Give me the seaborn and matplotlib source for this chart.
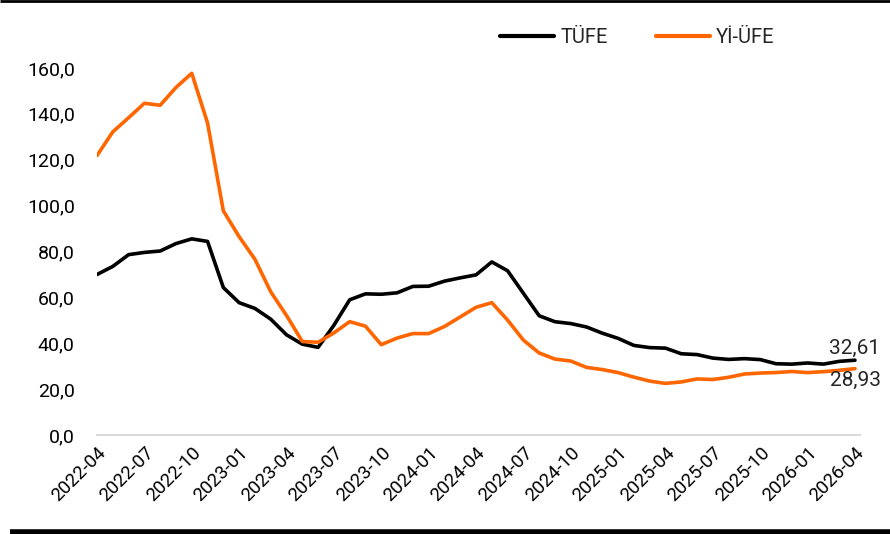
import pandas as pd
import matplotlib.pyplot as plt
import seaborn as sns
from matplotlib.lines import Line2D

# aylar: 2022-04 ... 2026-04
months = pd.period_range("2022-04", "2026-04", freq="M").strftime("%Y-%m").tolist()

tufe = [69.97, 73.50, 78.62, 79.60, 80.21, 83.45, 85.51, 84.39, 64.27,
        57.68, 55.18, 50.51, 43.68, 39.59, 38.21, 47.83, 58.94, 61.53, 61.36, 61.98, 64.77,
        64.86, 67.07, 68.50, 69.80, 75.45, 71.60, 61.78, 51.97, 49.38, 48.58, 47.09, 44.38,
        42.12, 39.05, 38.10, 37.86, 35.41, 35.05, 33.52, 32.95, 33.29, 32.87, 31.07, 30.89,
        31.40, 30.90, 32.10, 32.61]

yiufe = [121.82, 132.16, 138.31, 144.61, 143.75, 151.50, 157.69, 136.02, 97.72,
         86.46, 76.61, 62.43, 52.11, 40.76, 40.42, 44.50, 49.41, 47.44, 39.38, 42.25, 44.22,
         44.20, 47.29, 51.47, 55.66, 57.68, 50.09, 41.37, 35.75, 33.09, 32.24, 29.47, 28.52,
         27.20, 25.21, 23.50, 22.50, 23.13, 24.45, 24.19, 25.16, 26.59, 27.00, 27.23, 27.67,
         27.20, 27.60, 28.20, 28.93]

series_names = ["TÜFE", "Yİ-ÜFE"]
colors = ["#000000", "#FF6600"]

df = pd.DataFrame({"idx": range(len(months)), "TÜFE": tufe, "Yİ-ÜFE": yiufe})
long_df = df.melt(id_vars="idx", var_name="seri", value_name="deger")

sns.set_style("white")
plt.rcParams["font.family"] = ["Roboto", "DejaVu Sans"]

fig = plt.figure(figsize=(8.9, 5.34), dpi=100)
ax = fig.add_axes([0.109, 0.1854, 0.857, 0.6873])

sns.lineplot(data=long_df, x="idx", y="deger", hue="seri", hue_order=series_names,
             palette=colors, linewidth=2.6, ax=ax, legend=False)

ax.set_ylim(0, 160)
ax.set_xlim(0, len(months) - 0.7)
ax.set_yticks(range(0, 161, 20))
ax.set_yticklabels([f"{v},0" for v in range(0, 161, 20)], fontsize=14)
ax.set_xticks(range(0, len(months), 3))
ax.set_xticklabels(months[::3], rotation=45, ha="right", rotation_mode="anchor", fontsize=13.5)
ax.tick_params(axis="both", length=0, colors="#000000")
ax.tick_params(axis="y", pad=16)
ax.tick_params(axis="x", pad=6)
ax.set_xlabel("")
ax.set_ylabel("")

for side in ["top", "right", "left"]:
    ax.spines[side].set_visible(False)
ax.spines["bottom"].set_color("#d9d9d9")
ax.spines["bottom"].set_linewidth(1.5)

# son değer etiketleri
last = len(months) - 1
ax.text(last, tufe[-1] + 1.2, f"{tufe[-1]:.2f}".replace(".", ","),
        ha="center", va="bottom", fontsize=15)
ax.text(last, yiufe[-1] - 1.2, f"{yiufe[-1]:.2f}".replace(".", ","),
        ha="center", va="top", fontsize=15)

handles = [Line2D([0], [0], color=c, lw=3) for c in colors]
fig.legend(handles, series_names, loc="center", bbox_to_anchor=(0.716, 0.93),
           ncol=2, frameon=False, fontsize=14.5, handlelength=2.7,
           columnspacing=2.4, handletextpad=0.3)

# üst ve alt çizgiler
fig.add_artist(Line2D([0, 1], [0.998, 0.998], color="black", lw=2,
                      solid_capstyle="butt", transform=fig.transFigure))
fig.add_artist(Line2D([0.011, 1], [0.003, 0.003], color="black", lw=4,
                      solid_capstyle="butt", transform=fig.transFigure))

fig.savefig("out.png", dpi=100)
